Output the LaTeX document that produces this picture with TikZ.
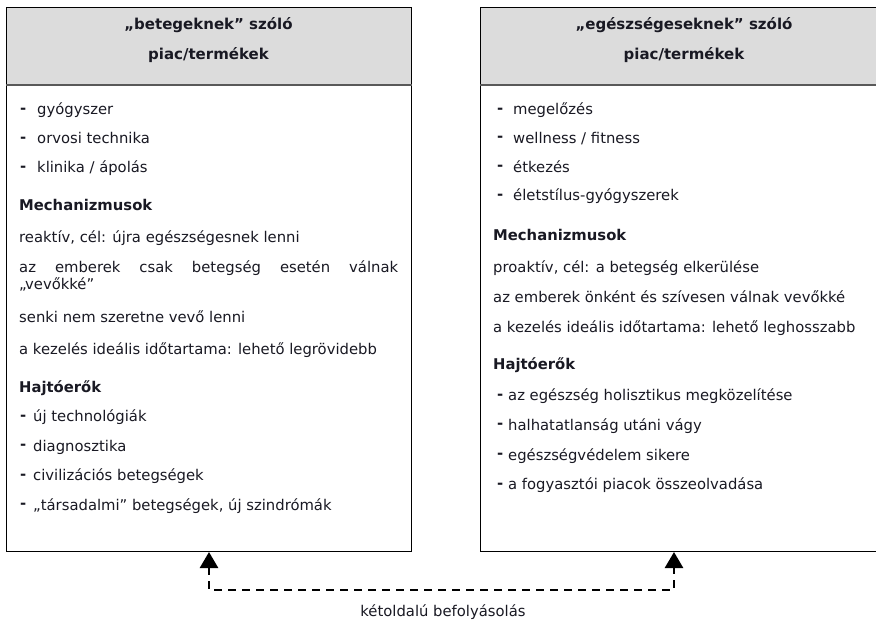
\documentclass[tikz,border=0pt]{standalone}
\usepackage{fontspec}
\setmainfont{DejaVu Sans}
\usetikzlibrary{arrows.meta,positioning}

\definecolor{hdrgray}{RGB}{220,220,220}
\definecolor{txtdark}{RGB}{25,25,35}

\newcommand{\bulletdash}[1]{\makebox[#1][l]{\raisebox{1.5pt}{\bfseries -}}}

\tikzset{
  hdrbox/.style={draw=black,line width=1pt,fill=hdrgray,anchor=north west,minimum width=405pt,minimum height=77pt,inner sep=0pt},
  bodybox/.style={draw=black,line width=1pt,fill=white,anchor=north west,minimum width=405pt,minimum height=467pt,inner sep=0pt},
  hdrtext/.style={font=\bfseries\fontsize{15}{18}\selectfont,text=txtdark,inner sep=0pt},
  itemtext/.style={anchor=mid west,font=\fontsize{14.8}{18}\selectfont,text=txtdark,inner sep=0pt},
  subhead/.style={itemtext,font=\bfseries\fontsize{14.8}{18}\selectfont},
  link/.style={line width=2.6pt,dash pattern=on 8pt off 6pt,{Triangle[length=16pt,width=18pt]}-{Triangle[length=16pt,width=18pt]}}
}

\begin{document}
\begin{tikzpicture}[x=1pt,y=-1pt]
\useasboundingbox (0,0) rectangle (876,621);

% left box
\node[bodybox] (lbody) at (6,84) {};
\node[hdrbox] (lhead) at (6,7) {};
\draw[black!65,line width=1.6pt] (lhead.south west) -- (lhead.south east);
\node[hdrtext] (lt1) at (208.5,25) {„betegeknek” szóló};
\node[hdrtext] (lt2) at (208.5,55) {piac/termékek};

\foreach \txt [count=\i] in {gyógyszer,orvosi technika,klinika / ápolás}
  \node[itemtext] (la\i) at (20,{112+29*(\i-1)}) {\bulletdash{17pt}\txt};
\node[subhead] (lm) at (19,208) {Mechanizmusok};
\node[itemtext] (lm1) at (19,240) {reaktív, cél: újra egészségesnek lenni};
\node[itemtext] (lm2) at (19,270) {\makebox[379pt][s]{az emberek csak betegség esetén válnak}};
\node[itemtext] (lm2b) at (19,287) {„vevőkké”};
\node[itemtext] (lm3) at (19,320) {senki nem szeretne vevő lenni};
\node[itemtext] (lm4) at (19,352) {a kezelés ideális időtartama: lehető legrövidebb};
\node[subhead] (lh) at (19,390) {Hajtóerők};
\foreach \txt [count=\i] in {új technológiák,diagnosztika,civilizációs betegségek,{„társadalmi” betegségek, új szindrómák}}
  \node[itemtext] (lb\i) at (20,{419+29.5*(\i-1)}) {\bulletdash{13pt}\txt};

% right box
\node[bodybox] (rbody) at (480,84) {};
\node[hdrbox] (rhead) at (480,7) {};
\draw[black!65,line width=1.6pt] (rhead.south west) -- (rhead.south east);
\node[hdrtext] (rt1) at (684,25) {„egészségeseknek” szóló};
\node[hdrtext] (rt2) at (684,55) {piac/termékek};

\foreach \txt [count=\i] in {megelőzés,wellness / fitness,étkezés,életstílus-gyógyszerek}
  \node[itemtext] (ra\i) at (497,{112+28.7*(\i-1)}) {\bulletdash{16pt}\txt};
\node[subhead] (rm) at (493,238) {Mechanizmusok};
\node[itemtext] (rm1) at (493,270) {proaktív, cél: a betegség elkerülése};
\node[itemtext] (rm2) at (493,300) {az emberek önként és szívesen válnak vevőkké};
\node[itemtext] (rm3) at (493,330) {a kezelés ideális időtartama: lehető leghosszabb};
\node[subhead] (rh) at (493,367) {Hajtóerők};
\foreach \txt [count=\i] in {az egészség holisztikus megközelítése,halhatatlanság utáni vágy,egészségvédelem sikere,a fogyasztói piacok összeolvadása}
  \node[itemtext] (rb\i) at (497,{398+29.7*(\i-1)}) {\bulletdash{11pt}\txt};

% mutual influence
\coordinate (dl) at (209,590);
\coordinate (dr) at (674,590);
\draw[link] (lbody.south -| dl) -- (dl) -- (dr) -- (rbody.south -| dr);
\node[itemtext,anchor=center] (infl) at (443,612) {kétoldalú befolyásolás};
\end{tikzpicture}
\end{document}
